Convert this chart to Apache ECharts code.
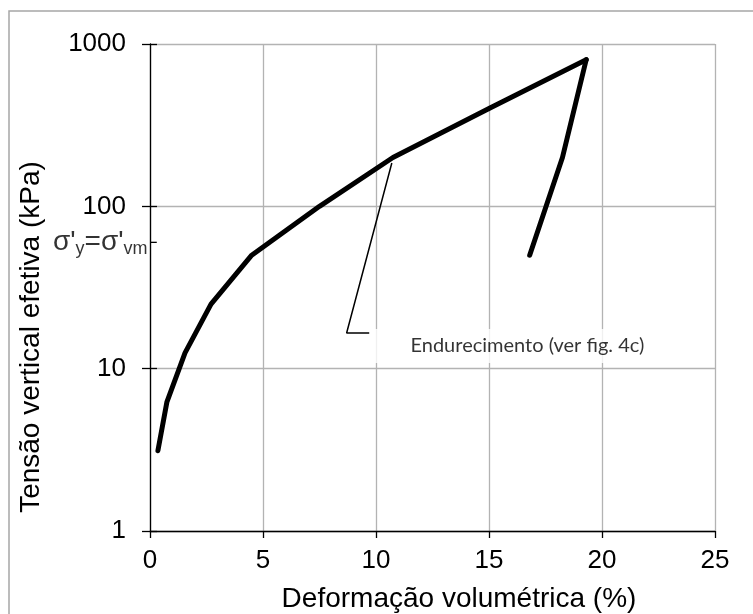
<!DOCTYPE html>
<html>
<head>
<meta charset="utf-8">
<script src="https://cdn.jsdelivr.net/npm/echarts@6/dist/echarts.min.js"></script>
<style>
  html, body { margin: 0; padding: 0; background: #fff; }
  #chart { width: 753px; height: 614px; }
</style>
</head>
<body>
<div id="chart"></div>
<script>
// loading branch (deformation %, effective vertical stress kPa)
var loadX = [0.35, 0.75, 1.55, 2.7, 4.5, 7.5, 10.75, 15, 19.3];
var loadY = [3.125, 6.25, 12.5, 25, 50, 100, 200, 400, 800];
// unloading branch
var unloadX = [19.3, 18.25, 16.8];
var unloadY = [800, 200, 50];
// callout leader line for the annotation
var calloutX = [10.7, 8.7, 9.7];
var calloutY = [185, 16.6, 16.6];
var calloutText = "Endurecimento (ver fig. 4c)";
var calloutAt = [16.7, 13.8];
// yield stress marker on the y axis
var yieldStress = 60;
var yieldTickX = [0, 0.3];

var xTicks = { min: 0, max: 25, interval: 5 };
var yTicks = { min: 1, max: 1000 };

function pairs(xs, ys) {
    var out = [];
    for (var i = 0; i < xs.length; i++) {
        out.push([xs[i], ys[i]]);
    }
    return out;
}

var chart = echarts.init(document.getElementById("chart"), null, { renderer: "canvas" });

var labelFont = "Liberation Sans";

var option = {
    animation: false,
    backgroundColor: "#fff",
    grid: { left: 150, right: 38, top: 44, bottom: 83, containLabel: false },
    xAxis: {
        type: "value",
        min: xTicks.min,
        max: xTicks.max,
        interval: xTicks.interval,
        axisLine: { show: true, onZero: false, lineStyle: { color: "#000", width: 1.3 } },
        axisTick: { show: true, inside: false, length: 7, lineStyle: { color: "#000", width: 1.3 } },
        axisLabel: { color: "#000", fontFamily: labelFont, fontSize: 26, margin: 17 },
        splitLine: { show: true, lineStyle: { color: "#b3b3b3", width: 1.3 } }
    },
    yAxis: [
        {
            type: "log",
            logBase: 10,
            min: yTicks.min,
            max: yTicks.max,
            axisLine: { show: true, onZero: false, lineStyle: { color: "#000", width: 1.3 } },
            axisTick: { show: true, inside: false, length: 8, lineStyle: { color: "#000", width: 1.3 } },
            axisLabel: {
                color: "#000", fontFamily: labelFont, fontSize: 26, margin: 24,
                formatter: function (v) { return String(Math.round(v)); }
            },
            splitLine: { show: true, lineStyle: { color: "#b3b3b3", width: 1.3 } }
        },
        {
            // inner half of the cross ticks
            type: "log",
            logBase: 10,
            min: yTicks.min,
            max: yTicks.max,
            position: "left",
            axisLine: { show: false },
            axisTick: { show: true, inside: true, length: 7, lineStyle: { color: "#000", width: 1.3 } },
            axisLabel: { show: false },
            splitLine: { show: false }
        }
    ],
    series: [
        {
            name: "carregamento",
            type: "line",
            data: pairs(loadX, loadY),
            showSymbol: false,
            lineStyle: { color: "#000", width: 5, cap: "round", join: "round" },
            z: 5
        },
        {
            name: "descarregamento",
            type: "line",
            data: pairs(unloadX, unloadY),
            showSymbol: false,
            lineStyle: { color: "#000", width: 5, cap: "round", join: "round" },
            z: 5
        },
        {
            name: "chamada",
            type: "line",
            data: pairs(calloutX, calloutY),
            showSymbol: false,
            lineStyle: { color: "#000", width: 1.5 },
            z: 4
        },
        {
            name: "tensao de escoamento",
            type: "line",
            data: pairs(yieldTickX, [yieldStress, yieldStress]),
            showSymbol: false,
            clip: false,
            lineStyle: { color: "#000", width: 1.3 },
            z: 4
        },
        {
            name: "rotulo escoamento",
            type: "scatter",
            data: [[yieldTickX[0], yieldStress]],
            symbolSize: 1,
            itemStyle: { color: "rgba(0,0,0,0)" },
            silent: true,
            label: {
                show: true,
                position: "left",
                distance: 2,
                formatter: "{m|σ'}{s|y}{m|=σ'}{s|vm}",
                rich: {
                    m: { fontFamily: labelFont, fontSize: 28, color: "#000", lineHeight: 32, verticalAlign: "middle" },
                    s: { fontFamily: labelFont, fontSize: 18, color: "#000", lineHeight: 18, verticalAlign: "bottom", padding: [14, 0, 0, 0] }
                }
            },
            z: 6
        },
        {
            name: "anotacao",
            type: "scatter",
            data: [calloutAt],
            symbolSize: 1,
            itemStyle: { color: "rgba(0,0,0,0)" },
            silent: true,
            label: {
                show: true,
                position: "inside",
                formatter: calloutText,
                fontFamily: "Lato",
                fontSize: 20,
                color: "#000",
                backgroundColor: "#fff",
                padding: [7, 40, 7, 40]
            },
            z: 3
        }
    ],
    graphic: [
        {
            type: "rect",
            shape: { x: 9, y: 11, width: 780, height: 640 },
            style: { fill: null, stroke: "#a6a6a6", lineWidth: 1.5 },
            silent: true,
            z: -1
        },
        {
            type: "text",
            x: 31,
            y: 337,
            rotation: Math.PI / 2,
            style: {
                text: "Tensão vertical efetiva (kPa)",
                font: '28px "Liberation Sans"',
                fill: "#000",
                align: "center",
                verticalAlign: "middle"
            }
        },
        {
            type: "text",
            x: 459,
            y: 599,
            style: {
                text: "Deformação volumétrica (%)",
                font: '28px "Liberation Sans"',
                fill: "#000",
                align: "center",
                verticalAlign: "middle"
            }
        }
    ]
};

chart.setOption(option);
window.addEventListener("resize", function () {
    chart.resize();
});
</script>
</body>
</html>
